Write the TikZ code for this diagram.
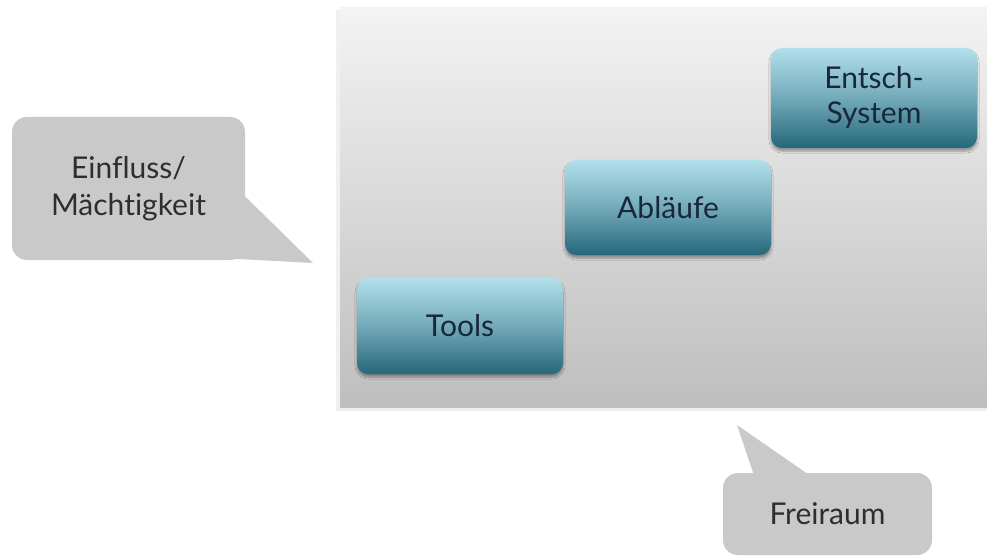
\documentclass[tikz,border=0pt]{standalone}
\usepackage{fontspec}
\setmainfont{Lato}[Ligatures=NoCommon]
\usetikzlibrary{shadows.blur}
\definecolor{panelTop}{HTML}{F3F3F3}
\definecolor{panelBot}{HTML}{BEBEBE}
\definecolor{boxTop}{HTML}{B2E0EC}
\definecolor{boxBot}{HTML}{25677A}
\definecolor{boxText}{HTML}{18283A}
\definecolor{bubble}{HTML}{C9C9C9}
\definecolor{bubbleText}{HTML}{2E2E2E}
\tikzset{
  stage/.style={rounded corners=11pt, top color=boxTop, bottom color=boxBot,
    middle color=boxTop!55!boxBot, shading angle=0,
    minimum width=206pt, text=boxText, align=center,
    font=\fontsize{30}{35}\selectfont,
    blur shadow={shadow xshift=0pt, shadow yshift=-3pt, shadow blur steps=6, shadow opacity=35}},
  bubblebox/.style={rounded corners=15pt, fill=bubble, text=bubbleText, align=center,
    font=\fontsize{30}{37}\selectfont},
}
\begin{document}
\begin{tikzpicture}[x=1pt, y=-1pt]
  \useasboundingbox (0,0) rectangle (987,556);
  \fill[white] (0,0) rectangle (987,556);

  % background panel
  \fill[black, opacity=0.06] (336,10) rectangle (987,411);
  \shade[top color=panelTop, bottom color=panelBot] (340,8) rectangle (987,407);

  % steps
  \node[stage, minimum height=96pt] (tools) at (460,326) {Tools};
  \node[stage, minimum height=95pt] (ablaeufe) at (668,207.5) {Abläufe};
  \node[stage, minimum height=100pt] (entsch) at (874,98) {Entsch-\\System};

  % callout: influence
  \node[bubblebox, minimum width=233pt, minimum height=143pt] (einfluss) at (128.5,188.5)
    {Einfluss/\\Mächtigkeit};
  \coordinate (einTip) at (313,263);
  \fill[bubble] ([yshift=-8pt]einfluss.east) -- (einTip) -- ([xshift=-16pt, yshift=-70pt]einfluss.east)
    -- ([xshift=-16pt, yshift=-8pt]einfluss.east) -- cycle;

  % callout: free space
  \node[bubblebox, minimum width=209pt, minimum height=82pt] (frei) at (827.5,514) {Freiraum};
  \coordinate (freiTip) at (737,425);
  \fill[bubble] ([xshift=-74pt, yshift=-1pt]frei.north) -- (freiTip) -- ([xshift=-20pt, yshift=-1pt]frei.north) -- cycle;
\end{tikzpicture}
\end{document}
